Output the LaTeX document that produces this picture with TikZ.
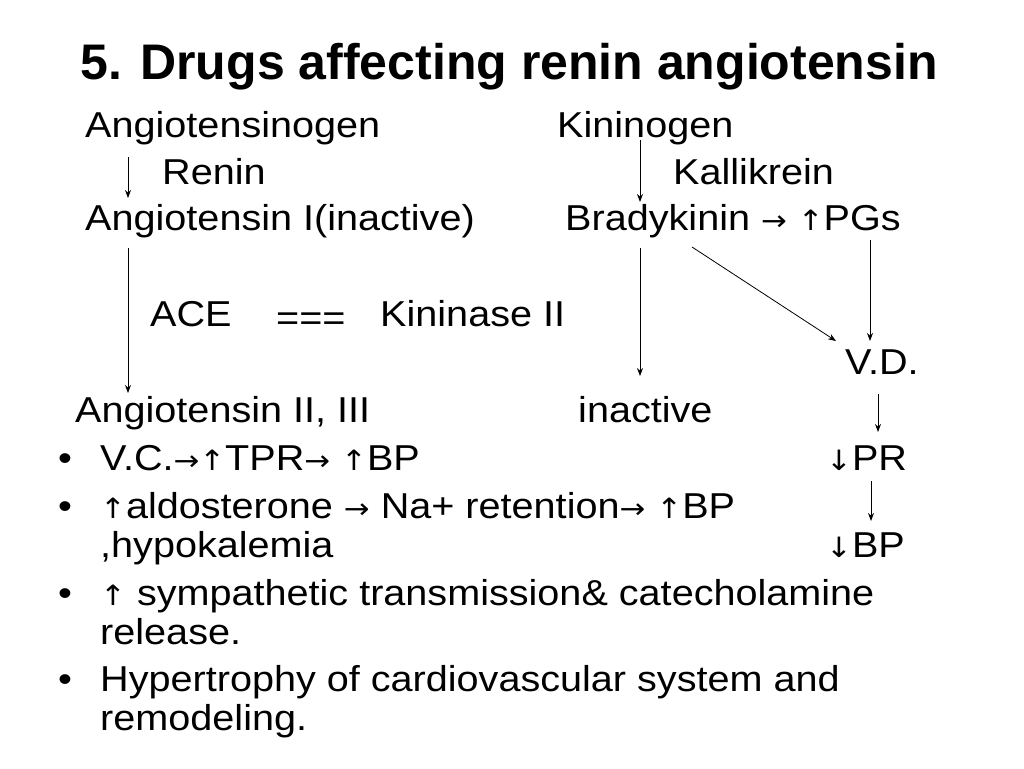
\documentclass[tikz,border=0pt]{standalone}
\usetikzlibrary{arrows.meta}
\usepackage{fontspec}
\setmainfont{Liberation Sans}
\newfontfamily\djv{DejaVu Sans}
\newcommand{\ra}{{\djv\fontsize{28}{28}\selectfont →}}
\newcommand{\ua}{{\djv\fontsize{28}{28}\selectfont ↑}}
\newcommand{\da}{{\djv\fontsize{28}{28}\selectfont ↓}}
\begin{document}
\begin{tikzpicture}[x=1pt,y=-1pt,
 t/.style={anchor=base west,inner sep=0pt,xscale=1.1,font=\fontsize{36}{36}\selectfont},
 ar/.style={-{Stealth[length=8pt,width=6pt]},line width=0.8pt}]
\useasboundingbox (0,0) rectangle (1024,768);
\node[anchor=base west,inner sep=0pt,font=\fontsize{50}{50}\selectfont\bfseries] (title) at (80,79) {5. Drugs affecting renin angiotensin};
\node[t] (agen) at (85,137) {Angiotensinogen};
\node[t] (kgen) at (557,137) {Kininogen};
\node[t] (renin) at (162,184) {Renin};
\node[t] (kall) at (673,184) {Kallikrein};
\node[t] (a1) at (85,230) {Angiotensin I(inactive)};
\node[t] (brady) at (565,230) {Bradykinin \ra{} \ua PGs};
\node[t] (ace) at (150,326) {ACE};
\node[t] (eq) at (276,330) {===};
\node[t] (kin2) at (380,326) {Kininase II};
\node[t] (vd) at (845,374) {V.D.};
\node[t] (a2) at (75,422) {Angiotensin II, III};
\node[t] (inact) at (578,422) {inactive};
\node[t] (pr) at (826,470) {\da PR};
\node[t] (bp) at (826,557) {\da BP};
\foreach \yy in {470,518,605,691} \node[t] at (58,\yy) {•};
\node[t] (b1) at (100,470) {V.C.\ra\ua TPR\ra{} \ua BP};
\node[t] (b2) at (100,518) {\ua aldosterone \ra{} Na+ retention\ra{} \ua BP};
\node[t] (b2b) at (100,557) {,hypokalemia};
\node[t] (b3) at (100,605) {\ua{} sympathetic transmission\& catecholamine};
\node[t] (b3b) at (100,644) {release.};
\node[t] (b4) at (100,691) {Hypertrophy of cardiovascular system and};
\node[t] (b4b) at (100,730) {remodeling.};
\coordinate (p1) at (128,157); \coordinate (p2) at (128,198);
\coordinate (q1) at (640,140); \coordinate (q2) at (640,202);
\coordinate (p3) at (128,248); \coordinate (p4) at (128,393);
\coordinate (q3) at (640,248); \coordinate (q4) at (640,376);
\coordinate (r1) at (692,247); \coordinate (r2) at (836,341);
\coordinate (s1) at (870,240); \coordinate (s2) at (870,341);
\coordinate (u1) at (878,394); \coordinate (u2) at (878,432);
\coordinate (w1) at (871,481); \coordinate (w2) at (871,521);
\draw[ar] (p1)--(p2); \draw[ar] (q1)--(q2);
\draw[ar] (p3)--(p4); \draw[ar] (q3)--(q4);
\draw[ar] (r1)--(r2); \draw[ar] (s1)--(s2);
\draw[ar] (u1)--(u2); \draw[ar] (w1)--(w2);
\end{tikzpicture}
\end{document}
